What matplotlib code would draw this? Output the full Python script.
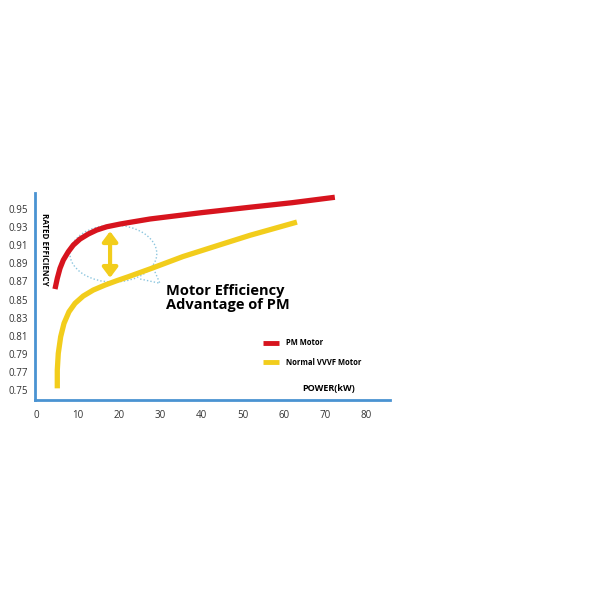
import matplotlib.pyplot as plt
from matplotlib.patches import Ellipse

# curve data
pm_power = [4.42, 4.98, 5.64, 6.44, 7.65, 8.87, 10.49, 12.51, 14.55, 16.98, 20.21, 22.64,
            27.5, 40.0, 51.8, 62.0, 72.4]
pm_eff = [0.8616, 0.8734, 0.8845, 0.8936, 0.9028, 0.9102, 0.9168, 0.9224, 0.9268, 0.9304,
          0.9334, 0.9353, 0.939, 0.946, 0.952, 0.957, 0.963]

vvvf_power = [4.98, 4.98, 5.22, 5.80, 6.61, 7.82, 9.28, 11.29, 13.72, 16.56, 19.41, 22.23,
              27.9, 35.5, 43.8, 51.8, 63.2]
vvvf_eff = [0.7519, 0.7721, 0.7905, 0.8089, 0.8237, 0.8365, 0.8458, 0.8539, 0.8605, 0.8660,
            0.8708, 0.8752, 0.8845, 0.8975, 0.9095, 0.921, 0.9356]

x_ticks = [0, 10, 20, 30, 40, 50, 60, 70, 80]
y_ticks = [0.75, 0.77, 0.79, 0.81, 0.83, 0.85, 0.87, 0.89, 0.91, 0.93, 0.95]

RED = '#d7141e'
YELLOW = '#f2cd1c'
BLUE = '#4a93d2'
BUBBLE = '#8cc6df'
font = ['Open Sans', 'DejaVu Sans']

fig = plt.figure(figsize=(6, 6), dpi=100)
ax = fig.add_axes([0.0583, 0.3333, 0.5917, 0.345])

ax.plot(pm_power, pm_eff, color=RED, lw=3.8, solid_capstyle='butt',
        solid_joinstyle='round', zorder=3)
ax.plot(vvvf_power, vvvf_eff, color=YELLOW, lw=3.8, solid_capstyle='butt',
        solid_joinstyle='round', zorder=3)

# speech bubble around the gap
bubble = Ellipse((18.6, 0.9008), 21.1, 0.063, fill=False, ec=BUBBLE,
                 ls=(0, (1, 1.5)), lw=1.0, zorder=2)
ax.add_patch(bubble)
ax.plot([25.1, 29.9, 28.0], [0.8727, 0.868, 0.888], color=BUBBLE,
        ls=(0, (1, 1.5)), lw=1.0, zorder=2)

# double arrow
ax.annotate('', xy=(17.8, 0.9255), xytext=(17.8, 0.874),
            arrowprops=dict(arrowstyle='<|-|>,head_length=0.6,head_width=0.45',
                            color=YELLOW, lw=3, shrinkA=0, shrinkB=0), zorder=4)

ax.text(31.5, 0.8517, 'Motor Efficiency\nAdvantage of PM', fontsize=10.5,
        fontweight='bold', family=font, va='center', ha='left', linespacing=1.05)

# legend
ax.plot([55.0, 58.8], [0.802, 0.802], color=RED, lw=3.5, solid_capstyle='butt')
ax.plot([55.0, 58.8], [0.781, 0.781], color=YELLOW, lw=3.5, solid_capstyle='butt')
ax.text(60.6, 0.802, 'PM Motor', fontsize=5.5, fontweight='bold', family=font, va='center')
ax.text(60.6, 0.781, 'Normal VVVF Motor', fontsize=5.5, fontweight='bold', family=font, va='center')

ax.text(64.4, 0.7517, 'POWER(kW)', fontsize=6.5, fontweight='bold', family=font, va='center')
ax.text(1.8, 0.906, 'RATED EFFICIENCY', fontsize=5.8, fontweight='bold', family=font,
        rotation=-90, va='center', ha='center')

ax.set_xlim(-0.44, 85.8)
ax.set_ylim(0.739, 0.9677)
ax.set_xticks(x_ticks)
ax.set_xticklabels([str(t) for t in x_ticks])
ax.set_yticks(y_ticks)
ax.set_yticklabels([f'{t:.2f}' for t in y_ticks])
ax.tick_params(length=0, labelsize=7, colors='#333333', pad=5)
ax.tick_params(axis='x', pad=7)
for lab in ax.get_xticklabels() + ax.get_yticklabels():
    lab.set_family(font)

for side in ['top', 'right']:
    ax.spines[side].set_visible(False)
for side in ['left', 'bottom']:
    ax.spines[side].set_color(BLUE)
    ax.spines[side].set_linewidth(2)

fig.savefig('out.png', dpi=100)
